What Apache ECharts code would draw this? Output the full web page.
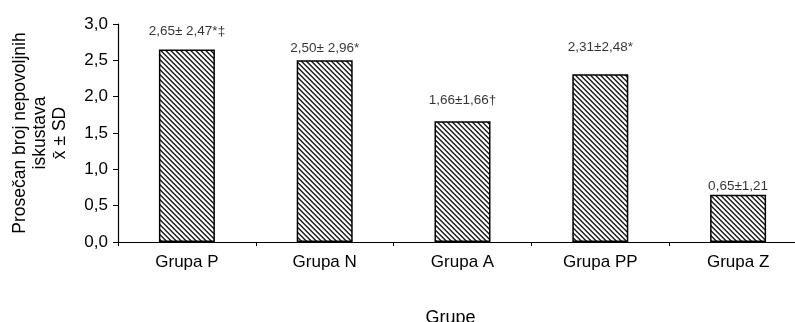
<!DOCTYPE html>
<html>
<head>
<meta charset="utf-8">
<script src="https://cdn.jsdelivr.net/npm/echarts@6/dist/echarts.min.js"></script>
<style>html,body{margin:0;padding:0;background:#fff}#c{width:795px;height:322px}</style>
</head>
<body>
<div id="c"></div>
<script>
var categories = ['Grupa P', 'Grupa N', 'Grupa A', 'Grupa PP', 'Grupa Z'];
var means = [2.65, 2.50, 1.66, 2.31, 0.65];
var labelTexts = ['2,65\u00b1 2,47*\u2021', '2,50\u00b1 2,96*', '1,66\u00b11,66\u2020', '2,31\u00b12,48*', '0,65\u00b11,21'];
var labelLevels = [2.90, 2.67, 1.95, 2.68, 0.76];
var yTicks = [0, 0.5, 1.0, 1.5, 2.0, 2.5, 3.0];

function makePattern() {
  var n = 5;
  var cv = document.createElement('canvas');
  cv.width = n; cv.height = n;
  var ctx = cv.getContext('2d');
  var img = ctx.createImageData(n, n);
  var shades = [30, 90, 255, 255, 190];
  for (var y = 0; y < n; y++) {
    for (var x = 0; x < n; x++) {
      var d = ((x - y) % n + n) % n;
      var v = shades[d];
      var i = (y * n + x) * 4;
      img.data[i] = v; img.data[i + 1] = v; img.data[i + 2] = v; img.data[i + 3] = 255;
    }
  }
  ctx.putImageData(img, 0, 0);
  return cv;
}

var chart = echarts.init(document.getElementById('c'), null, {renderer: 'canvas'});
var font = 'Liberation Sans, Arial, sans-serif';
chart.setOption({
  animation: false,
  backgroundColor: '#fff',
  grid: {left: 118, top: 24, width: 689, height: 218, containLabel: false, outerBoundsMode: 'none'},
  xAxis: {
    type: 'category',
    data: categories,
    name: 'Grupe',
    nameLocation: 'middle',
    nameGap: 67,
    nameTextStyle: {color: '#000', fontSize: 18, fontFamily: font, padding: [0, 24, 0, 0]},
    axisLine: {lineStyle: {color: '#000', width: 1.2}},
    axisTick: {show: true, alignWithLabel: false, length: 4, lineStyle: {color: '#000'}},
    axisLabel: {color: '#000', fontSize: 17, fontFamily: font, margin: 12}
  },
  yAxis: {
    type: 'value',
    min: 0, max: 3, interval: 0.5,
    name: 'Prose\u010dan broj nepovoljnih\niskustava\nx\u0304 \u00b1 SD',
    nameLocation: 'middle',
    nameGap: 48,
    nameTextStyle: {color: '#000', fontSize: 17.5, fontFamily: font, lineHeight: 20, align: 'center'},
    splitLine: {show: false},
    axisLine: {show: true, lineStyle: {color: '#000', width: 1.2}},
    axisTick: {show: true, length: 5, lineStyle: {color: '#000'}},
    axisLabel: {
      color: '#000', fontSize: 17, fontFamily: font, margin: 10,
      formatter: function (v) { return v.toFixed(1).replace('.', ','); }
    }
  },
  series: [
    {
      type: 'bar',
      data: means,
      barWidth: 56,
      itemStyle: {
        color: {image: makePattern(), repeat: 'repeat'},
        borderColor: '#000',
        borderWidth: 1.5
      }
    },
    {
      type: 'scatter',
      data: labelLevels,
      symbolSize: 0,
      silent: true,
      label: {
        show: true,
        position: 'inside',
        color: '#000',
        fontSize: 13.5,
        fontFamily: font,
        formatter: function (p) { return labelTexts[p.dataIndex]; }
      }
    }
  ]
});
</script>
</body>
</html>
